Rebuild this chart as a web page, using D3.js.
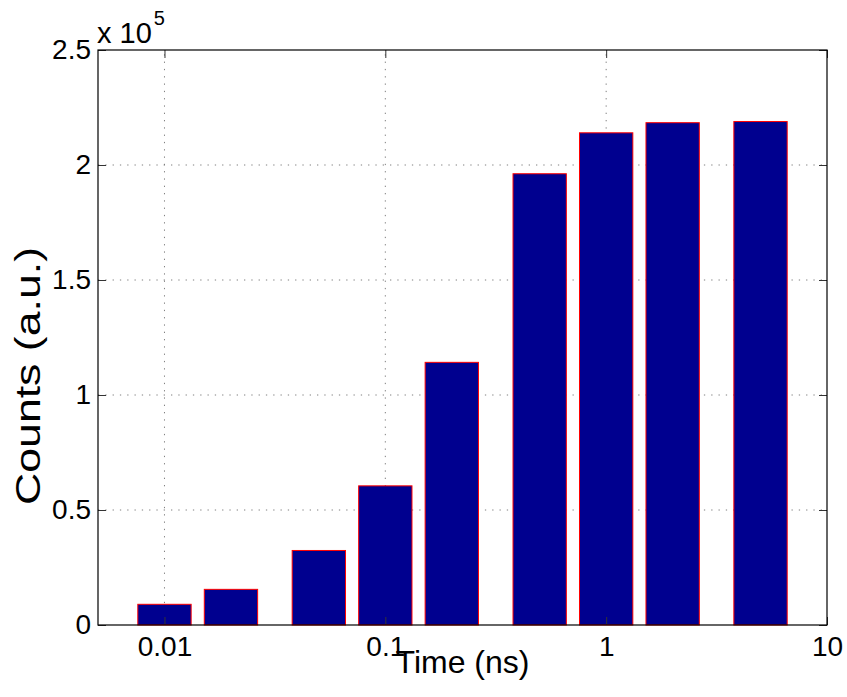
<!DOCTYPE html>
<html>
<head>
<meta charset="utf-8">
<script src="https://cdn.jsdelivr.net/npm/d3@7"></script>
<style>
  body { margin: 0; background: #fff; }
  svg { display: block; font-family: "Liberation Sans", Arial, sans-serif; }
  .axis path { display: none; }
  .axis line { stroke: #333; }
  .axis text { fill: #000; font-size: 28px; }
  .grid line { stroke: #7f7f7f; stroke-dasharray: 1.3,6; }
</style>
</head>
<body>
<div id="app"></div>
<script>
// data
const times = [0.01, 0.02, 0.05, 0.1, 0.2, 0.5, 1, 2, 5];
const counts = [9000, 15500, 32400, 60500, 114200, 196200, 214000, 218400, 218900];
const xTickValues = [0.01, 0.1, 1, 10];
const xTickLabels = ["0.01", "0.1", "1", "10"];
const yTickValues = [0, 50000, 100000, 150000, 200000, 250000];
const yTickLabels = ["0", "0.5", "1", "1.5", "2", "2.5"];

const width = 847
    , height = 697
    , margin = {top: 50, right: 20, bottom: 72, left: 98}
    , barDecades = 0.2415; // bar width on the log axis

const svg = d3.select("#app").append("svg")
    .attr("width", width)
    .attr("height", height);

const x = d3.scaleLog()
    .domain([0.005, 10])
    .range([margin.left, width - margin.right]);

const y = d3.scaleLinear()
    .domain([0, 250000])
    .range([height - margin.bottom, margin.top]);

const x0 = x.range()[0], x1 = x.range()[1]
    , y0 = y.range()[0], y1 = y.range()[1];

// grid
const grid = svg.append('g').attr('class', 'grid');
grid.selectAll('.gx')
    .data(xTickValues.filter(v => v < 10))
  .enter().append('line')
    .attr('x1', d => x(d)).attr('x2', d => x(d))
    .attr('y1', y0).attr('y2', y1);
grid.selectAll('.gy')
    .data(yTickValues.filter(v => v > 0 && v < 250000))
  .enter().append('line')
    .attr('x1', x0).attr('x2', x1)
    .attr('y1', d => y(d)).attr('y2', d => y(d));

// bars
const half = Math.pow(10, barDecades / 2);
svg.append('g')
  .selectAll('rect')
    .data(times.map((t, i) => ({t, c: counts[i]})))
  .enter().append('rect')
    .attr('x', d => x(d.t / half))
    .attr('width', d => x(d.t * half) - x(d.t / half))
    .attr('y', d => y(d.c))
    .attr('height', d => y(0) - y(d.c))
    .attr('fill', '#00008f')
    .attr('stroke', '#ff0000')
    .attr('stroke-width', 1);

// axes (ticks point inward)
const fmtX = d => xTickLabels[xTickValues.indexOf(d)];
const fmtY = d => yTickLabels[yTickValues.indexOf(d)];

svg.append('g').attr('class', 'axis')
    .attr('transform', `translate(0,${y0})`)
    .call(d3.axisBottom(x).tickValues(xTickValues).tickFormat(fmtX)
      .tickSizeInner(-8).tickSizeOuter(0).tickPadding(11));
svg.append('g').attr('class', 'axis')
    .attr('transform', `translate(0,${y1})`)
    .call(d3.axisTop(x).tickValues(xTickValues).tickFormat('')
      .tickSizeInner(-8).tickSizeOuter(0));
svg.append('g').attr('class', 'axis')
    .attr('transform', `translate(${x0},0)`)
    .call(d3.axisLeft(y).tickValues(yTickValues).tickFormat(fmtY)
      .tickSizeInner(-8).tickSizeOuter(0).tickPadding(7));
svg.append('g').attr('class', 'axis')
    .attr('transform', `translate(${x1},0)`)
    .call(d3.axisRight(y).tickValues(yTickValues).tickFormat('')
      .tickSizeInner(-8).tickSizeOuter(0));

// box
svg.append('rect')
    .attr('x', x0).attr('y', y1)
    .attr('width', x1 - x0).attr('height', y0 - y1)
    .attr('fill', 'none')
    .attr('stroke', '#000')
    .attr('stroke-width', 1.2);

// exponent
const expo = svg.append('text')
    .attr('x', x0 - 1)
    .attr('y', 43)
    .style('font-size', '29px');
expo.append('tspan').text('x 10');
expo.append('tspan').attr('dx', 2).attr('dy', -18).style('font-size', '20px').text('5');

// labels
svg.append('text')
    .attr('x', (x0 + x1) / 2)
    .attr('y', 673)
    .attr('text-anchor', 'middle')
    .style('font-size', '32px')
    .text('Time (ns)');

svg.append('text')
    .attr('transform', `translate(40,376) rotate(-90)`)
    .attr('text-anchor', 'middle')
    .attr('textLength', 258)
    .attr('lengthAdjust', 'spacingAndGlyphs')
    .style('font-size', '35px')
    .text('Counts (a.u.)');
</script>
</body>
</html>
